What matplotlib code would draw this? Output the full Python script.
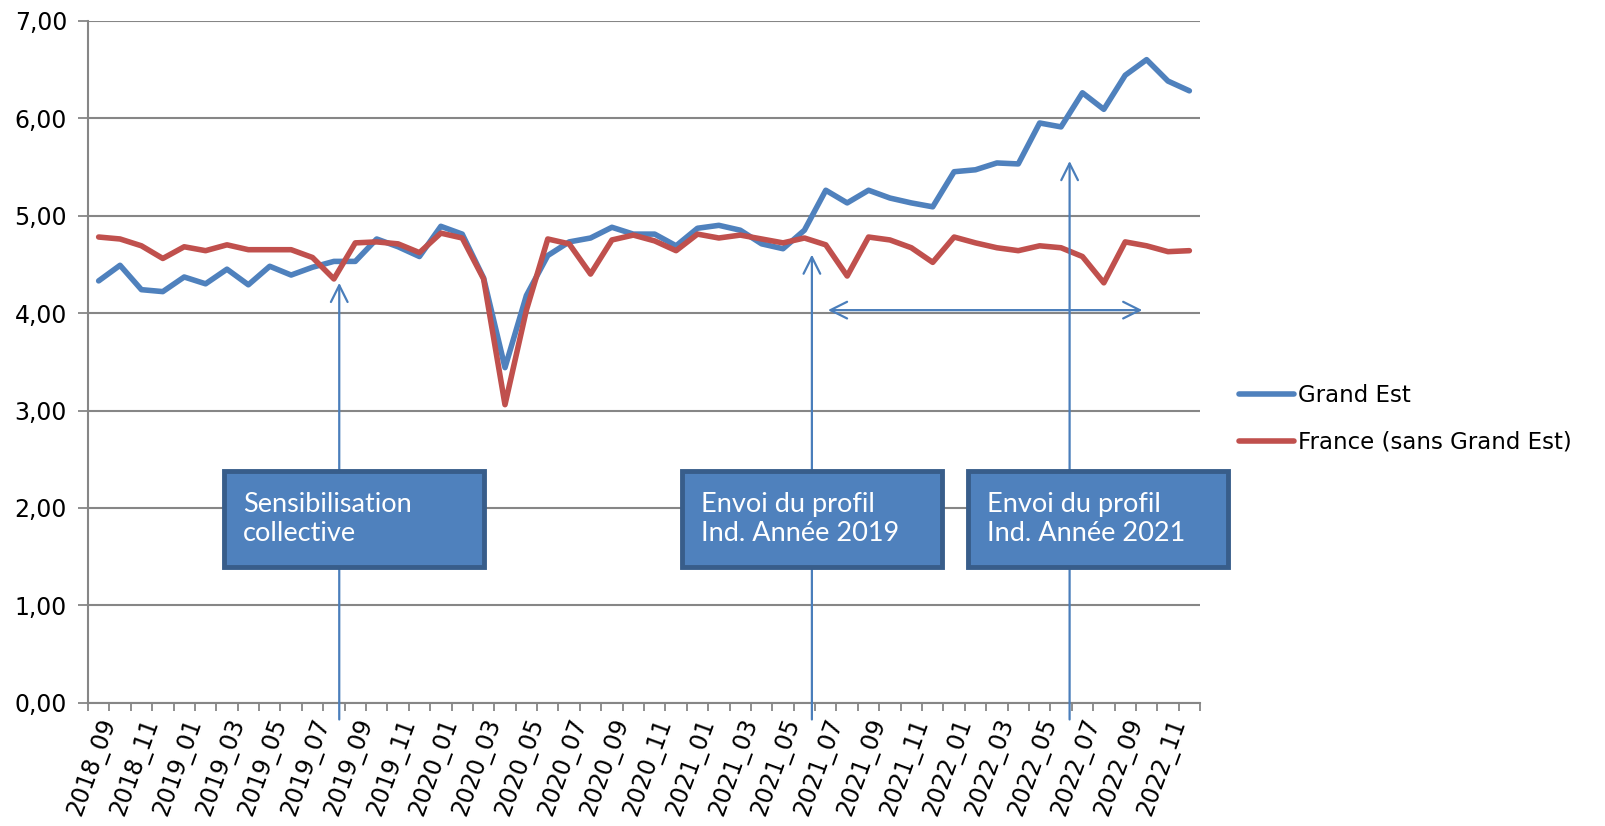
import matplotlib.pyplot as plt
from matplotlib.patches import FancyBboxPatch
import numpy as np

# monthly categories 2018_09 .. 2022_12
months = ["%d_%02d" % (y, m) for y in range(2018, 2023) for m in range(1, 13)]
months = months[months.index("2018_09"):]

grand_est = [4.33, 4.49, 4.24, 4.22, 4.37, 4.30, 4.45, 4.29, 4.48, 4.39,
             4.47, 4.53, 4.53, 4.76, 4.68, 4.58, 4.89, 4.81, 4.36, 3.44,
             4.18, 4.59, 4.73, 4.77, 4.88, 4.81, 4.81, 4.69, 4.87, 4.90,
             4.85, 4.71, 4.66, 4.85, 5.26, 5.13, 5.26, 5.18, 5.13, 5.09,
             5.45, 5.47, 5.54, 5.53, 5.95, 5.91, 6.26, 6.09, 6.44, 6.60,
             6.38, 6.28]
france = [4.78, 4.76, 4.69, 4.56, 4.68, 4.64, 4.70, 4.65, 4.65, 4.65,
          4.57, 4.35, 4.72, 4.73, 4.71, 4.62, 4.82, 4.77, 4.35, 3.06,
          4.03, 4.76, 4.71, 4.40, 4.75, 4.80, 4.74, 4.64, 4.81, 4.77,
          4.80, 4.76, 4.72, 4.77, 4.70, 4.38, 4.78, 4.75, 4.67, 4.52,
          4.78, 4.72, 4.67, 4.64, 4.69, 4.67, 4.58, 4.31, 4.73, 4.69,
          4.63, 4.64]

# annotation arrows: (x position in months, arrow tip value)
events = [(11.25, 4.31), (33.35, 4.60), (45.4, 5.56)]
event_texts = ["Sensibilisation\ncollective",
               "Envoi du profil\nInd. Année 2019",
               "Envoi du profil\nInd. Année 2021"]
span = (34.1, 48.8, 4.03)

blue = "#4A7EBB"
grey = "#868686"

fig = plt.figure(figsize=(16.05, 8.26), dpi=100)
ax = fig.add_axes([0.0548, 0.149, 0.6929, 0.826])

x = np.arange(len(months))
ax.plot(x, grand_est, color="#4F81BD", lw=4, solid_capstyle="round",
        solid_joinstyle="round", label="Grand Est", zorder=3)
ax.plot(x, france, color="#C0504D", lw=4, solid_capstyle="round",
        solid_joinstyle="round", label="France (sans Grand Est)", zorder=3)

ax.set_xlim(-0.5, len(months) - 0.5)
ax.set_ylim(0, 7)
ax.set_yticks(np.arange(0, 8))
ax.set_yticklabels(["%d,00" % v for v in range(8)])
ax.yaxis.grid(True, color=grey, lw=1.5)
ax.set_axisbelow(True)

ax.set_xticks(x[::2])
ax.set_xticklabels(months[::2], rotation=70, ha="right", rotation_mode="anchor")
ax.set_xticks(np.arange(-0.5, len(months)), minor=True)
ax.tick_params(axis="x", which="major", length=0, pad=9, labelsize=17)
ax.tick_params(axis="x", which="minor", length=6, width=1.3, color=grey)
ax.tick_params(axis="y", length=7, width=1.3, color=grey, labelsize=17, pad=8)

for s in ["top", "right"]:
    ax.spines[s].set_visible(False)
for s in ["left", "bottom"]:
    ax.spines[s].set_color(grey)
    ax.spines[s].set_linewidth(1.5)

# vertical arrows
for ex, ey in events:
    ax.annotate("", xy=(ex, ey), xytext=(ex, -0.17), annotation_clip=False,
                arrowprops=dict(arrowstyle="->", color=blue, lw=1.6,
                                mutation_scale=30, shrinkA=0, shrinkB=0),
                zorder=4)
ax.annotate("", xy=(span[0], span[2]), xytext=(span[1], span[2]),
            arrowprops=dict(arrowstyle="<->", color=blue, lw=1.6,
                            mutation_scale=30, shrinkA=0, shrinkB=0), zorder=4)

# text boxes (figure pixels)
box_left = [224, 682, 968]
for bx, txt in zip(box_left, event_texts):
    fx, fy = bx / 1605, 1 - 567 / 826
    fig.patches.append(FancyBboxPatch((fx, fy), 260 / 1605, 96 / 826,
                                      boxstyle="square,pad=0", transform=fig.transFigure,
                                      facecolor="#4F81BD", edgecolor="#385D8A",
                                      lw=3.5, zorder=5))
    fig.text(fx + 19 / 1605, fy + 48 / 826, txt, color="white", fontsize=19.5,
             family="Lato", va="center", ha="left", linespacing=1.2, zorder=6)

fig.legend(loc="center left", bbox_to_anchor=(0.759, 0.493), frameon=False,
           fontsize=16.5, handlelength=2.4, handletextpad=0.2, labelspacing=1.05)

fig.savefig("out.png", dpi=100)
